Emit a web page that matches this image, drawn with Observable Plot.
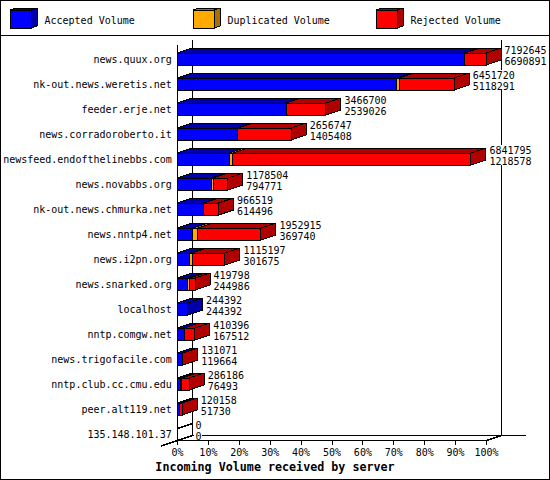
<!DOCTYPE html>
<html>
<head>
<meta charset="utf-8">
<script src="https://cdn.jsdelivr.net/npm/d3@7"></script>
<script src="https://cdn.jsdelivr.net/npm/@observablehq/plot@0.6"></script>
<style>
html,body{margin:0;padding:0;background:#fff}
#page{position:relative;width:550px;height:480px;overflow:hidden;background:#fff}
#legend{position:absolute;left:0;top:0;width:550px;height:36px;box-sizing:border-box;border-bottom:1px solid #000}
#chart{position:absolute;left:0;top:36px;width:550px;height:444px}
#frame{position:absolute;left:0;top:0;width:550px;height:480px;box-sizing:border-box;border:1px solid #000;pointer-events:none}
svg{display:block;background:transparent !important}
svg rect,svg path,svg line{shape-rendering:crispEdges}
</style>
</head>
<body>
<div id="page"><div id="legend"></div><div id="chart"></div><div id="frame"></div></div>
<script>
const servers = ["news.quux.org","nk-out.news.weretis.net","feeder.erje.net","news.corradoroberto.it","newsfeed.endofthelinebbs.com","news.novabbs.org","nk-out.news.chmurka.net","news.nntp4.net","news.i2pn.org","news.snarked.org","localhost","nntp.comgw.net","news.trigofacile.com","nntp.club.cc.cmu.edu","peer.alt119.net","135.148.101.37"];
const offered = [7192645,6451720,3466700,2656747,6841795,1178504,966519,1952915,1115197,419798,244392,410396,131071,286186,120158,0];
const accepted = [6690891,5118291,2539026,1405408,1218578,794771,614496,369740,301675,244986,244392,167512,119664,76493,51730,0];
const duplicated = [5000,58000,3000,2000,77000,47000,2000,116000,55000,45000,0,1000,0,30000,2000,0];
const legendLabels = ["Accepted Volume","Duplicated Volume","Rejected Volume"];
const frontColors = ["#0000ff","#ffaa00","#ff0000"];
const darkColors = ["#0000a8","#a87000","#b00000"];
const xTicks = [0,10,20,30,40,50,60,70,80,90,100];
const title = "Incoming Volume received by server";

const FONT = "'DejaVu Sans Mono', monospace";
const maxV = d3.max(offered);
const pct = v => v / maxV * 100;
const pxX = 100 / 309, pxY = 1 / 25;
const dX = 15 * pxX, dY = 5 * pxY, half = 6 * pxY;

const segments = servers.map((s, i) => {
  const a = pct(accepted[i]);
  const b = pct(accepted[i] + duplicated[i]);
  const c = pct(Math.max(offered[i], accepted[i] + duplicated[i]));
  return [[0, a], [a, b], [b, c]];
});

function segMarks(k) {
  const rows = segments.map((seg, i) => ({i, x1: seg[k][0], x2: seg[k][1]}))
    .filter(r => r.x2 > r.x1);
  const top = rows.flatMap(r => [
    {i: r.i, y: r.i - half, x1: r.x1, x2: r.x2},
    {i: r.i, y: r.i - half - dY, x1: r.x1 + dX, x2: r.x2 + dX}
  ]);
  const side = rows.flatMap(r => [
    {i: r.i, x: r.x2, y1: r.i - half, y2: r.i + half},
    {i: r.i, x: r.x2 + dX, y1: r.i - half - dY, y2: r.i + half - dY}
  ]);
  return [
    Plot.areaX(top, {y: "y", x1: "x1", x2: "x2", z: "i", fill: darkColors[k], stroke: "#000"}),
    Plot.areaY(side, {x: "x", y1: "y1", y2: "y2", z: "i", fill: darkColors[k], stroke: "#000"}),
    Plot.rect(rows, {x1: "x1", x2: "x2", y1: d => d.i - half, y2: d => d.i + half, fill: frontColors[k], stroke: "#000"})
  ];
}

// A row with no volume has no bar: only the edge of its empty top face shows.
const emptyEdges = servers.map((s, i) => i).filter(i => offered[i] === 0).flatMap(i => [
  {i, x: 0, y: i - half},
  {i, x: dX, y: i - half - dY}
]);

const labelRows = servers.map((s, i) => ({i, x: pct(offered[i]) + dX + 3 * pxX, top: offered[i], bottom: accepted[i]}));

const chart = Plot.plot({
  width: 550, height: 444,
  marginTop: 0, marginLeft: 0, marginRight: 0, marginBottom: 40,
  style: {fontFamily: FONT, fontSize: "10px", color: "#000", background: "transparent", overflow: "visible"},
  x: {type: "linear", domain: [0, 100], range: [177, 486]},
  y: {type: "linear", domain: [0, 15], range: [23, 398]},
  marks: [
    Plot.ruleX([dX, 100 + dX], {y1: -0.76, y2: 15.04, stroke: "#000"}),
    Plot.ruleY([15.04], {x1: dX, x2: 113, stroke: "#000"}),
    Plot.rect(labelRows, {
      x1: d => d.x - 1 * pxX,
      x2: d => d.x + (String(d.top).length * 6 + 1) * pxX,
      y1: d => d.i - 0.56, y2: d => d.i + 0.22, fill: "#fff"
    }),
    ...segMarks(0), ...segMarks(1), ...segMarks(2),
    Plot.line(emptyEdges, {x: "x", y: "y", z: "i", stroke: "#000"}),
    Plot.ruleX([0], {y1: -0.56, y2: 15.24, stroke: "#000"}),
    Plot.ruleY([15.24], {x1: 0, x2: 100, stroke: "#000"}),
    Plot.line([{x: -5.2, y: 15.46}, {x: dX, y: 15.04}], {x: "x", y: "y", stroke: "#000"}),
    Plot.line([{x: 100, y: 15.24}, {x: 100 + dX, y: 15.04}], {x: "x", y: "y", stroke: "#000"}),
    Plot.axisX(xTicks, {anchor: "bottom", tickSize: 5, tickPadding: 3, tickFormat: d => d + "%", label: null, fontSize: 10}),
    Plot.axisY(d3.range(servers.length), {anchor: "left", x: -1.87, tickSize: 0, tickPadding: 0, textAnchor: "end", tickFormat: i => servers[i], label: null, fontSize: 10}),
    Plot.text(labelRows, {x: "x", y: d => d.i - 0.36, text: d => String(d.top), textAnchor: "start", fontSize: 10, fill: "#000"}),
    Plot.text(labelRows, {x: "x", y: d => d.i + 0.08, text: d => String(d.bottom), textAnchor: "start", fontSize: 10, fill: "#000"}),
    Plot.text([title], {x: 31.55, y: 16.32, fontWeight: "bold", fontSize: 11.7, fill: "#000"})
  ]
});
document.getElementById("chart").appendChild(chart);

const LX = i => 10 + 183 * i;
const legItems = legendLabels.map((label, i) => ({i, label}));
const legend = Plot.plot({
  width: 550, height: 35, margin: 0,
  style: {fontFamily: FONT, fontSize: "10px", color: "#000", background: "transparent"},
  x: {type: "linear", domain: [0, 550], range: [0, 550], axis: null},
  y: {type: "linear", domain: [0, 35], range: [0, 35], axis: null},
  marks: [
    Plot.areaX(legItems.flatMap(d => [
      {i: d.i, y: 10, x1: LX(d.i), x2: LX(d.i) + 21},
      {i: d.i, y: 8, x1: LX(d.i) + 6, x2: LX(d.i) + 27}
    ]), {y: "y", x1: "x1", x2: "x2", z: "i", fill: d => darkColors[d.i], stroke: "#000"}),
    Plot.areaY(legItems.flatMap(d => [
      {i: d.i, x: LX(d.i) + 21, y1: 10, y2: 28},
      {i: d.i, x: LX(d.i) + 27, y1: 8, y2: 26}
    ]), {x: "x", y1: "y1", y2: "y2", z: "i", fill: d => darkColors[d.i], stroke: "#000"}),
    Plot.rect(legItems, {x1: d => LX(d.i), x2: d => LX(d.i) + 21, y1: 10, y2: 28, fill: d => frontColors[d.i], stroke: "#000"}),
    Plot.text(legItems, {x: d => LX(d.i) + 34, y: 20, text: "label", textAnchor: "start", fontSize: 10, fill: "#000"})
  ]
});
document.getElementById("legend").appendChild(legend);
</script>
</body>
</html>
